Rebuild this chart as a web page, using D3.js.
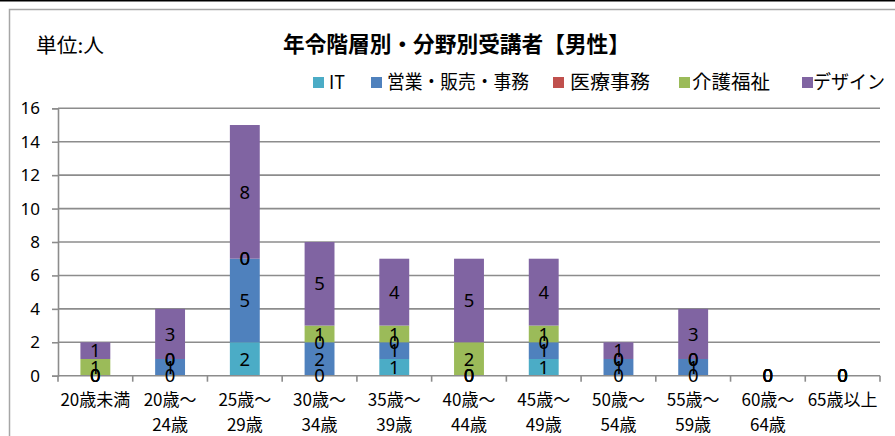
<!DOCTYPE html>
<html><head><meta charset="utf-8">
<script src="https://cdn.jsdelivr.net/npm/d3@7"></script>
<style>
html,body{margin:0;padding:0;background:#fff;}
svg{display:block;font-family:"Noto Sans CJK JP","Noto Sans",sans-serif;}
</style></head>
<body>
<script>
const categories = ["20歳未満","20歳～24歳","25歳～29歳","30歳～34歳","35歳～39歳","40歳～44歳","45歳～49歳","50歳～54歳","55歳～59歳","60歳～64歳","65歳以上"];
const seriesNames = ["IT","営業・販売・事務","医療事務","介護福祉","デザイン"];
const seriesColors = ["#4BACC6","#4F81BD","#C0504D","#9BBB59","#8064A2"];
const itValues      = [0,0,2,0,1,0,1,0,0,0,0];
const salesValues   = [0,1,5,2,1,0,1,1,1,0,0];
const medicalValues = [0,0,0,0,0,0,0,0,0,0,0];
const careValues    = [1,0,0,1,1,2,1,0,0,0,0];
const designValues  = [1,3,8,5,4,5,4,1,3,0,0];
const yTicks = [0,2,4,6,8,10,12,14,16];
const titleText = "年令階層別・分野別受講者【男性】";
const unitText = "単位:人";

const W = 895, H = 436;
const svg = d3.select("body").append("svg").attr("width", W).attr("height", H);
svg.append("rect").attr("width", W).attr("height", H).attr("fill", "#fff");
svg.append("line").attr("x1",0).attr("x2",W).attr("y1",0.75).attr("y2",0.75).attr("stroke","#000").attr("stroke-width",1.5);
svg.append("path").attr("d",`M9.5,${H+2}V9.5H${W+2}`).attr("fill","none").attr("stroke","#a6a6a6").attr("stroke-width",1.5);

const allSeries = [itValues, salesValues, medicalValues, careValues, designValues];
const rows = categories.map((c,i) => {
  const r = {cat:c};
  seriesNames.forEach((s,j) => r[s] = allSeries[j][i]);
  return r;
});
const stacked = d3.stack().keys(seriesNames)(rows);

const x = d3.scaleBand().domain(categories).range([58, 880]).paddingInner(0.6).paddingOuter(0.3);
const y = d3.scaleLinear().domain([0,16]).range([375.7, 108.3]);
const gridColor = "#8c8c8c";

svg.append("g").selectAll("line").data(yTicks.filter(t=>t>0)).join("line")
  .attr("x1",58).attr("x2",880).attr("y1",d=>y(d)).attr("y2",d=>y(d))
  .attr("stroke",gridColor).attr("stroke-width",1.6);

const yAxis = svg.append("g").attr("transform","translate(58,0)")
  .call(d3.axisLeft(y).tickValues(yTicks).tickSize(6).tickPadding(12).tickFormat(d3.format("d")));
yAxis.select(".domain").attr("stroke",gridColor).attr("stroke-width",1.6);
yAxis.selectAll(".tick line").attr("stroke",gridColor).attr("stroke-width",1.6);
yAxis.selectAll("text").attr("font-size",17).attr("fill","#000").attr("font-family","'Noto Sans','Noto Sans CJK JP',sans-serif");

const layers = svg.append("g").selectAll("g").data(stacked).join("g")
  .attr("fill",(d,i)=>seriesColors[i]);
layers.selectAll("rect").data(d=>d).join("rect")
  .attr("x",d=>x(d.data.cat)).attr("width",x.bandwidth())
  .attr("y",d=>y(d[1])).attr("height",d=>y(d[0])-y(d[1]));

const xg = svg.append("g");
xg.append("line").attr("x1",58).attr("x2",880).attr("y1",y(0)).attr("y2",y(0)).attr("stroke",gridColor).attr("stroke-width",1.6);
const boundaries = d3.range(categories.length+1).map(i => 58 + i*(822/categories.length));
xg.selectAll("line.tk").data(boundaries).join("line").attr("class","tk")
  .attr("x1",d=>d).attr("x2",d=>d).attr("y1",y(0)).attr("y2",y(0)+6)
  .attr("stroke",gridColor).attr("stroke-width",1.6);
const xl = xg.selectAll("text").data(categories).join("text")
  .attr("text-anchor","middle").attr("font-size",17).attr("fill","#000")
  .attr("x",d=>x(d)+x.bandwidth()/2);
xl.each(function(d){
  const t = d3.select(this);
  const idx = d.indexOf("～");
  const lines = idx>=0 ? [d.slice(0,idx+1), d.slice(idx+1)] : [d];
  lines.forEach((ln,k)=>{
    t.append("tspan").attr("x",x(d)+x.bandwidth()/2).attr("y",406+k*25).text(ln);
  });
});

const lab = svg.append("g");
stacked.forEach((layer,j)=>{
  lab.selectAll(null).data(layer).join("text")
    .attr("x",d=>x(d.data.cat)+x.bandwidth()/2)
    .attr("y",d=>y((d[0]+d[1])/2))
    .attr("dy","0.36em")
    .attr("text-anchor","middle").attr("font-size",18.5).attr("fill","#000")
    .attr("font-family","'Noto Sans','Noto Sans CJK JP',sans-serif")
    .text(d=>d[1]-d[0]);
});

svg.append("text").attr("x",283).attr("y",44).attr("dy","0.36em")
  .attr("font-size",22).attr("font-weight","bold").attr("fill","#000")
  .attr("textLength",347).attr("lengthAdjust","spacingAndGlyphs").text(titleText);
svg.append("text").attr("x",36).attr("y",46).attr("dy","0.36em")
  .attr("font-size",20).attr("fill","#000")
  .attr("textLength",68).attr("lengthAdjust","spacingAndGlyphs").text(unitText);

const legendX = [313, 371, 553, 679, 802];
const textX = [329, 387, 570, 692, 813];
const textW = [16, 142, 80, 78, 72];
const lg = svg.append("g");
seriesNames.forEach((s,i)=>{
  lg.append("rect").attr("x",legendX[i]).attr("y",77).attr("width",11).attr("height",11).attr("fill",seriesColors[i]);
  lg.append("text").attr("x",textX[i]).attr("y",82.5).attr("dy","0.36em")
    .attr("font-size",19).attr("fill","#000")
    .attr("textLength",textW[i]).attr("lengthAdjust","spacingAndGlyphs").text(s);
});
</script>
</body></html>
